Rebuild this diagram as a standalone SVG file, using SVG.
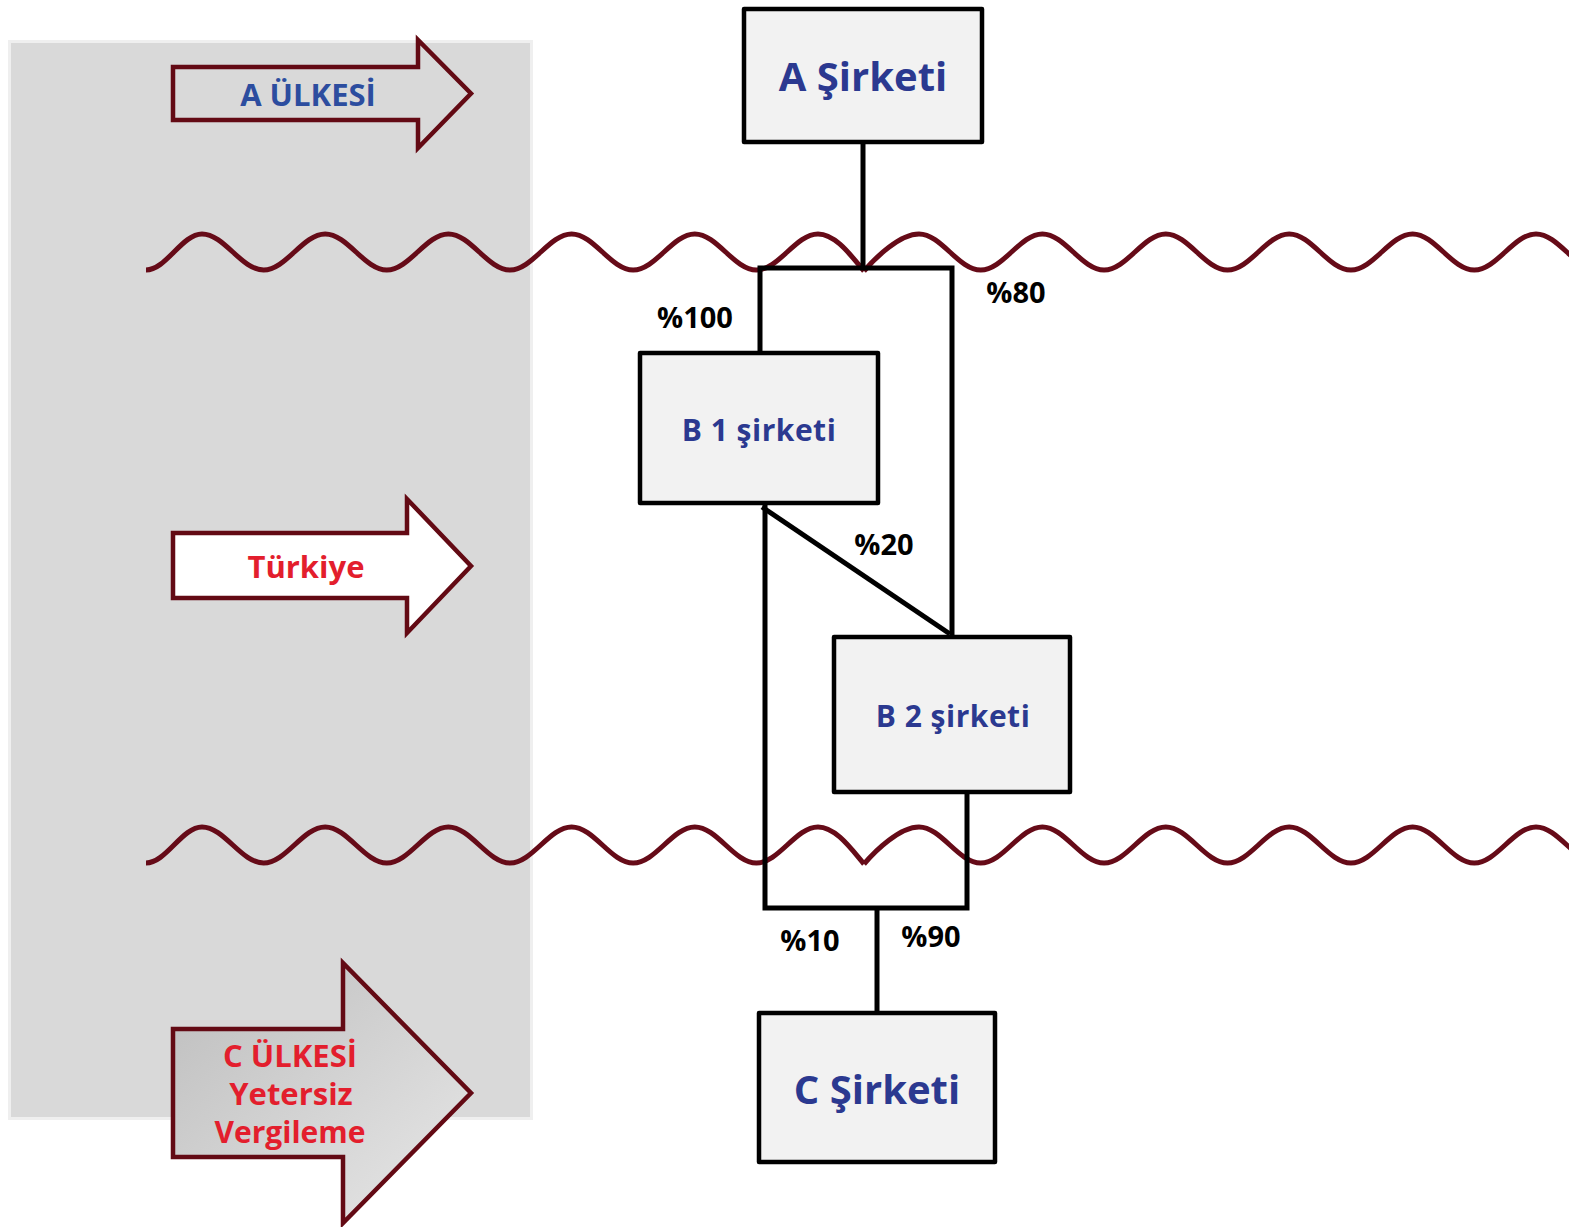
<svg xmlns="http://www.w3.org/2000/svg" width="1569" height="1227" viewBox="0 0 1569 1227">
  <defs>
    <style>
      .panel { fill: #d9d9d9; stroke: #efefef; stroke-width: 3; }
      .arrow { stroke: #630a14; stroke-width: 4.5; stroke-linejoin: miter; }
      .wave { fill: none; stroke: #660b18; stroke-width: 5; stroke-linecap: butt; }
      .conn { fill: none; stroke: #000; stroke-width: 5; stroke-linejoin: miter; }
      .box { fill: #f2f2f2; stroke: #000; stroke-width: 4.5; stroke-linejoin: round; }
      .t { font-family: "Open Sans", "Noto Sans", "DejaVu Sans", sans-serif; font-weight: 700; text-anchor: middle; }
      .blue { fill: #2b3990; }
      .blue2 { fill: #2c4d9f; }
      .red { fill: #e31e2d; }
      .pct { fill: #000; font-size: 29px; }
    </style>
    <linearGradient id="cgrad" x1="0" y1="0" x2="1" y2="1">
      <stop offset="0" stop-color="#bdbdbd"/>
      <stop offset="1" stop-color="#e8e8e8"/>
    </linearGradient>
    <path id="waveL" d="M146,270 C166,270 182,234 202,234 C224.4,234 241.2,270 263.6,270 C286,270 302.8,234 325.2,234 C347.6,234 364.4,270 386.8,270 C409.2,270 426,234 448.4,234 C470.8,234 487.6,270 510,270 C532.4,270 549.2,234 571.6,234 C594,234 610.8,270 633.2,270 C655.6,270 672.4,234 694.8,234 C717.2,234 734,270 756.4,270 C778.8,270 795.6,234 818,234 C836,234 852,257 864,271"/>
    <path id="waveR" d="M864,271 C876,257 900,234 919,234 C941.5,234 958.2,270 980.7,270 C1003.2,270 1019.9,234 1042.4,234 C1064.9,234 1081.6,270 1104.1,270 C1126.6,270 1143.3,234 1165.8,234 C1188.3,234 1205,270 1227.5,270 C1250,270 1266.7,234 1289.2,234 C1311.7,234 1328.4,270 1350.9,270 C1373.4,270 1390.1,234 1412.6,234 C1435.1,234 1451.8,270 1474.3,270 C1496.8,270 1513.5,234 1536,234 C1558.5,234 1575.2,270 1597.7,270"/>
  </defs>

  <rect width="1569" height="1227" fill="#ffffff"/>

  <g id="panel">
    <rect class="panel" x="9.5" y="41.5" width="522" height="1077"/>
  </g>

  <g id="arrow-a-ulkesi">
    <path class="arrow" fill="#d9d9d9" d="M173,67 H418 V40 L471,93.5 L418,148 V120 H173 Z"/>
    <text class="t blue2" x="308" y="106" font-size="31">A ÜLKESİ</text>
  </g>

  <g id="arrow-turkiye">
    <path class="arrow" fill="#ffffff" d="M173,533 H407 V499 L471,566 L407,633 V598 H173 Z"/>
    <text class="t red" x="306" y="578" font-size="31">Türkiye</text>
  </g>

  <g id="arrow-c-ulkesi">
    <path class="arrow" fill="url(#cgrad)" d="M173,1029 H343 V963 L471,1093 L343,1223 V1157 H173 Z"/>
    <text class="t red" x="290" y="1067" font-size="31">C ÜLKESİ</text>
    <text class="t red" x="291" y="1105" font-size="31">Yetersiz</text>
    <text class="t red" x="290" y="1143" font-size="30">Vergileme</text>
  </g>

  <g id="borders">
    <use href="#waveL" class="wave"/>
    <use href="#waveR" class="wave"/>
    <use href="#waveL" class="wave" transform="translate(0,593)"/>
    <use href="#waveR" class="wave" transform="translate(0,593)"/>
  </g>

  <g id="connectors">
    <path class="conn" d="M863,144 V268"/>
    <path class="conn" d="M760,351 V268 H952 V636"/>
    <path class="conn" d="M762,507 L950,634"/>
    <path class="conn" d="M765,505 V908 H967 V794"/>
    <path class="conn" d="M877,908 V1011"/>
    <text class="t pct" x="695" y="328">%100</text>
    <text class="t pct" x="1016" y="303">%80</text>
    <text class="t pct" x="884" y="555">%20</text>
    <text class="t pct" x="810" y="951">%10</text>
    <text class="t pct" x="931" y="947">%90</text>
  </g>

  <g id="node-a-sirketi">
    <rect class="box" x="744" y="9" width="238" height="133"/>
    <text class="t blue" x="863" y="91" font-size="40">A Şirketi</text>
  </g>

  <g id="node-b1-sirketi">
    <rect class="box" x="640" y="353" width="238" height="150"/>
    <text class="t blue" x="759" y="441" font-size="30" letter-spacing="0.5">B 1 şirketi</text>
  </g>

  <g id="node-b2-sirketi">
    <rect class="box" x="834" y="637" width="236" height="155"/>
    <text class="t blue" x="953" y="727" font-size="30" letter-spacing="0.5">B 2 şirketi</text>
  </g>

  <g id="node-c-sirketi">
    <rect class="box" x="759" y="1013" width="236" height="149"/>
    <text class="t blue" x="877" y="1104" font-size="40">C Şirketi</text>
  </g>
</svg>
